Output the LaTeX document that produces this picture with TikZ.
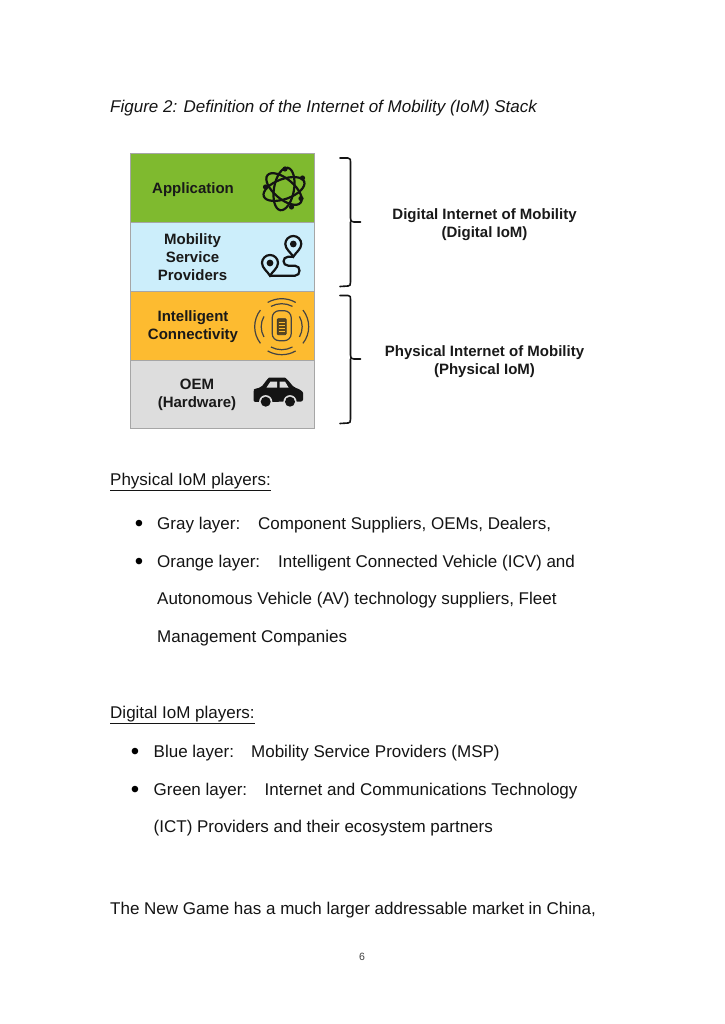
\documentclass[tikz,border=0pt]{standalone}
\usepackage{fontspec}
\setmainfont{Liberation Sans}
\definecolor{lgreen}{HTML}{7FBA2F}
\definecolor{lblue}{HTML}{CCEEFB}
\definecolor{lorange}{HTML}{FDBB30}
\definecolor{lgray}{HTML}{DDDDDD}
\definecolor{lborder}{HTML}{A6A6A6}
\definecolor{icon}{HTML}{141414}
\tikzset{
  layer/.style={draw=lborder,line width=1pt},
  body/.style={anchor=base west,inner sep=0pt,font=\fontsize{17}{17}\selectfont,text=black!92},
  bul/.style={anchor=base,inner sep=0pt,font=\fontsize{24}{24}\selectfont,yshift=-2pt},
  lab/.style={anchor=base,inner sep=0pt,font=\fontsize{15}{15}\selectfont\bfseries,text=black!90},
  brace/.style={draw=icon,line width=1.6pt,line cap=round,line join=round},
  ic/.style={draw=icon,line width=2.2pt},
  wave/.style={draw=icon!80,line width=1.2pt}
}
\newcommand{\pinshape}{(0,12.7) .. controls (-2.5,8.5) and (-8,5) .. (-8,0) .. controls (-8,-4.4) and (-4.4,-8) .. (0,-8) .. controls (4.4,-8) and (8,-4.4) .. (8,0) .. controls (8,5) and (2.5,8.5) .. (0,12.7) -- cycle}
\begin{document}
\begin{tikzpicture}[x=1pt,y=-1pt]
\useasboundingbox (0,0) rectangle (724,1024);
\fill[white] (0,0) rectangle (724,1024);
% caption
\node[body,font=\fontsize{17}{17}\selectfont\itshape] (cap) at (110,113) {Figure 2: Definition of the Internet of Mobility (IoM) Stack};
% layers
\filldraw[layer,fill=lgreen] (130.5,154) rectangle (314.5,222.5);
\filldraw[layer,fill=lblue] (130.5,222.5) rectangle (314.5,291);
\filldraw[layer,fill=lorange] (130.5,291) rectangle (314.5,360);
\filldraw[layer,fill=lgray] (130.5,360) rectangle (314.5,428.5);
% layer labels
\node[lab] (a1) at (193,194) {Application};
\node[lab] (m1) at (192.5,244) {Mobility};
\node[lab] (m2) at (192.5,262) {Service};
\node[lab] (m3) at (192.5,280) {Providers};
\node[lab] (i1) at (193,321) {Intelligent};
\node[lab] (i2) at (193,339) {Connectivity};
\node[lab] (o1) at (197,389) {OEM};
\node[lab] (o2) at (197,407) {(Hardware)};
% atom
\begin{scope}[shift={(284,189)}]
  \foreach \r in {20,80,140} \draw[ic,rotate=\r] (0,0) ellipse [x radius=21.5,y radius=10];
  \foreach \x/\y in {-18.5/-2,7.5/18,17/9.5,18.5/-11,1/-20} \fill[icon] (\x,\y) circle (2.6);
\end{scope}
% route pins
\begin{scope}[shift={(293.3,244)}]
  \draw[ic] \pinshape;
  \fill[icon] (0,0) circle (3.4);
\end{scope}
\begin{scope}[shift={(270,263)}]
  \draw[ic] \pinshape;
  \fill[icon] (0,0) circle (3.4);
\end{scope}
\draw[ic,line cap=round] (270,275.7) -- (295,275.7) .. controls (301,275.7) and (301,265.7) .. (295,265.7) -- (288.3,265.7) .. controls (282,265.7) and (282,256.7) .. (288.3,256.7) -- (293.3,256.7);
% connectivity
\begin{scope}[shift={(281.7,326.7)},y=1pt]
  \foreach \a in {0,180} {
    \draw[wave] (\a-38:27) arc[start angle=\a-38,end angle=\a+38,radius=27];
    \draw[wave] (\a-30:20.5) arc[start angle=\a-30,end angle=\a+30,radius=20.5];
    \draw[wave] (\a+90-30:28) arc[start angle=\a+90-30,end angle=\a+90+30,radius=28];
    \draw[wave] (\a+90-28:23) arc[start angle=\a+90-28,end angle=\a+90+28,radius=23];
  }
  \draw[wave,rounded corners=7pt] (-9.5,16) rectangle (9.5,-14);
  \filldraw[draw=icon!85,fill=icon!70!lorange,line width=.8pt,rounded corners=1pt] (-4.5,8) rectangle (4.5,-8);
  \foreach \y in {-5,-2,1,4} \draw[lorange,line width=.8pt] (-3,\y) -- (3,\y);
\end{scope}
% car
\fill[icon,rounded corners=2pt] (253.5,402) -- (253.5,391.5) .. controls (254,389) and (258,388) .. (261,387.5) -- (267.5,379) .. controls (269,377.5) and (285,377.5) .. (287,379) -- (294,387.5) .. controls (300,389) and (303,392) .. (303,395) -- (303,401.5) -- cycle;
\fill[lgray] (266.5,387.5) -- (270.5,381.5) -- (277,381.5) -- (277,387.5) -- cycle;
\fill[lgray] (279.5,387.5) -- (279.5,381.5) -- (285,381.5) -- (288.5,387.5) -- cycle;
\foreach \x in {265.7,290} {
  \fill[lgray] (\x,401.7) circle (6.6);
  \fill[icon] (\x,401.7) circle (5);
}
% braces
\draw[brace] (340,158) -- (348,158) .. controls (350.5,158) and (350.5,160) .. (350.5,162) -- (350.5,218) .. controls (350.5,221) and (351,222) .. (354,222) -- (360.5,222);
\draw[brace] (350.5,222) .. controls (350.5,223) .. (350.5,226) -- (350.5,282) .. controls (350.5,285) and (350,286) .. (348,286) -- (340,286.5);
\draw[brace] (340,295.5) -- (348,295.5) .. controls (350.5,295.5) and (350.5,297) .. (350.5,299) -- (350.5,355) .. controls (350.5,358) and (351,359) .. (354,359) -- (360.5,359);
\draw[brace] (350.5,359) .. controls (350.5,360) .. (350.5,363) -- (350.5,419) .. controls (350.5,422) and (350,423) .. (348,423) -- (340,423.5);
% group labels
\node[lab] (d1) at (484.5,219) {Digital Internet of Mobility};
\node[lab] (d2) at (484.5,237.5) {(Digital IoM)};
\node[lab] (p1) at (484.5,356) {Physical Internet of Mobility};
\node[lab] (p2) at (484.5,374) {(Physical IoM)};
% body
\node[body] (h1) at (110,485) {\underline{Physical IoM players:}};
\node[bul] (b1) at (139,529) {•};
\node[body] (t1) at (157,529) {\makebox[101pt][l]{Gray layer:}Component Suppliers, OEMs, Dealers,};
\node[bul] (b2) at (139,567) {•};
\node[body] (t2) at (157,567) {\makebox[121pt][l]{Orange layer:}Intelligent Connected Vehicle (ICV) and};
\node[body] (t3) at (157,604) {Autonomous Vehicle (AV) technology suppliers, Fleet};
\node[body] (t4) at (157,642) {Management Companies};
\node[body] (h2) at (110,718) {\underline{Digital IoM players:}};
\node[bul] (b3) at (135,757) {•};
\node[body] (t5) at (153.5,757) {\makebox[97.5pt][l]{Blue layer:}Mobility Service Providers (MSP)};
\node[bul] (b4) at (135,795) {•};
\node[body] (t6) at (153.5,795) {\makebox[111pt][l]{Green layer:}Internet and Communications Technology};
\node[body] (t7) at (153.5,832) {(ICT) Providers and their ecosystem partners};
\node[body] (t8) at (110,914) {The New Game has a much larger addressable market in China,};
\node[anchor=base,inner sep=0pt,font=\fontsize{10.5}{10.5}\selectfont,text=black!75] (pg) at (362,960) {6};
\end{tikzpicture}
\end{document}
